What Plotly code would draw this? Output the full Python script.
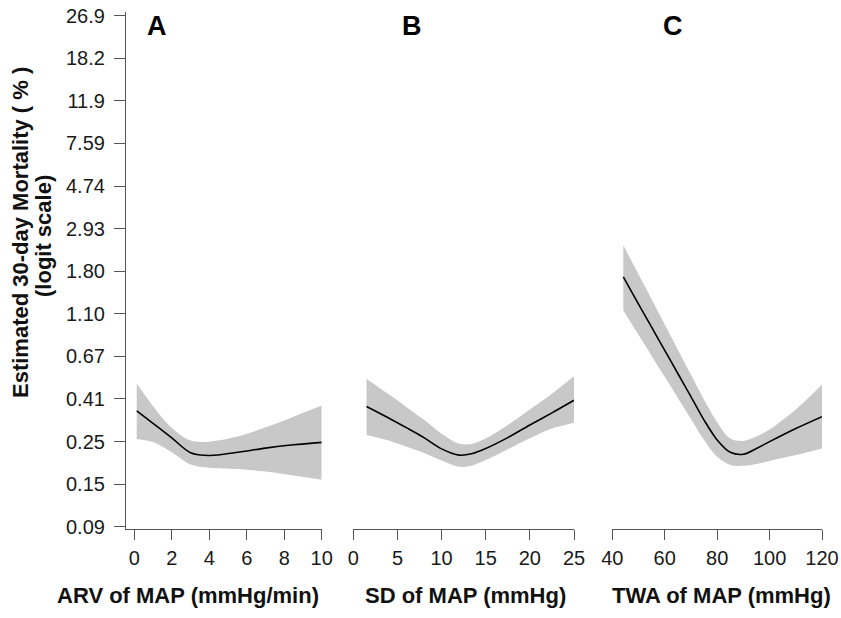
import numpy as np
import plotly.graph_objects as go

W, H = 841, 618

# y axis: logit scale, tick positions (logit) and their percent labels
y_tick_logit = [-7.0, -6.5, -6.0, -5.5, -5.0, -4.5, -4.0, -3.5, -3.0, -2.5, -2.0, -1.5, -1.0]
y_tick_text = ["0.09", "0.15", "0.25", "0.41", "0.67", "1.10", "1.80",
               "2.93", "4.74", "7.59", "11.9", "18.2", "26.9"]

# Panel A: ARV of MAP (mmHg/min) -> estimated 30-day mortality (%)
arv_x = [0.13, 1.0, 2.0, 3.0, 4.0, 5.5, 7.0, 8.5, 10.0]
arv_est = [0.354, 0.306, 0.258, 0.217, 0.210, 0.218, 0.229, 0.238, 0.245]
arv_hi = [0.487, 0.374, 0.290, 0.250, 0.247, 0.262, 0.292, 0.331, 0.377]
arv_lo = [0.255, 0.246, 0.218, 0.189, 0.182, 0.179, 0.174, 0.166, 0.158]

# Panel B: SD of MAP (mmHg)
sd_x = [1.5, 4, 6, 8, 10, 12, 13.5, 15, 17.5, 20, 22.5, 25]
sd_est = [0.373, 0.326, 0.291, 0.259, 0.227, 0.211, 0.215, 0.228, 0.259, 0.300, 0.346, 0.401]
sd_hi = [0.516, 0.430, 0.371, 0.319, 0.271, 0.241, 0.241, 0.256, 0.300, 0.360, 0.433, 0.530]
sd_lo = [0.267, 0.250, 0.233, 0.216, 0.198, 0.184, 0.187, 0.199, 0.226, 0.257, 0.288, 0.308]

# Panel C: TWA of MAP (mmHg)
twa_x = [44.2, 50, 55, 60, 65, 70, 75, 80, 85, 90, 95, 100, 110, 120]
twa_est = [1.684, 1.23, 0.94, 0.718, 0.548, 0.418, 0.318, 0.252, 0.218, 0.213, 0.228, 0.247, 0.288, 0.331]
twa_hi = [2.425, 1.735, 1.299, 0.970, 0.724, 0.541, 0.403, 0.310, 0.256, 0.249, 0.262, 0.285, 0.360, 0.480]
twa_lo = [1.143, 0.860, 0.673, 0.527, 0.412, 0.322, 0.252, 0.207, 0.188, 0.186, 0.190, 0.197, 0.211, 0.228]

panel_letters = ["A", "B", "C"]
x_titles = ["ARV of MAP (mmHg/min)", "SD of MAP (mmHg)", "TWA of MAP (mmHg)"]
y_title_1 = "Estimated 30-day Mortality ( % )"
y_title_2 = "(logit scale)"


def logit(pct):
    p = np.asarray(pct, dtype=float) / 100.0
    return np.log(p / (1.0 - p))


FONT = "Liberation Sans, Arial, Helvetica, sans-serif"
BAND = "rgb(200,200,200)"
AXC = "#555555"

fig = go.Figure()

panels = [
    (arv_x, arv_est, arv_lo, arv_hi, "x"),
    (sd_x, sd_est, sd_lo, sd_hi, "x2"),
    (twa_x, twa_est, twa_lo, twa_hi, "x3"),
]
for xs, est, lo, hi, xa in panels:
    fig.add_trace(go.Scatter(x=xs, y=logit(lo), xaxis=xa, yaxis="y", mode="lines",
                             line=dict(width=0, color=BAND, shape="spline", smoothing=0.9),
                             hoverinfo="skip", showlegend=False))
    fig.add_trace(go.Scatter(x=xs, y=logit(hi), xaxis=xa, yaxis="y", mode="lines",
                             line=dict(width=0, color=BAND, shape="spline", smoothing=0.9),
                             fill="tonexty", fillcolor=BAND,
                             hoverinfo="skip", showlegend=False))
    fig.add_trace(go.Scatter(x=xs, y=logit(est), xaxis=xa, yaxis="y", mode="lines",
                             line=dict(width=1.6, color="black", shape="spline", smoothing=0.9),
                             showlegend=False))


def px_x(v):
    return v / W


def px_y(v):
    return 1 - v / H


y_top_px, y_bot_px = 11.7, 529.3
common_x = dict(showline=True, linecolor=AXC, linewidth=1.2, ticks="outside", ticklen=10,
                tickwidth=1.2, tickcolor=AXC, showgrid=False, zeroline=False,
                tickfont=dict(family=FONT, size=20, color="#1a1a1a"), anchor="y",
                automargin=False, ticklabelstandoff=1)

fig.update_layout(
    width=W, height=H,
    margin=dict(l=0, r=0, t=0, b=0),
    paper_bgcolor="white", plot_bgcolor="white",
    font=dict(family=FONT, color="#111111"),
    xaxis=dict(domain=[px_x(126), px_x(321.7)], range=[-0.443, 10],
               tickvals=[0, 2, 4, 6, 8, 10], **common_x),
    xaxis2=dict(domain=[px_x(353.3), px_x(574)], range=[0, 25],
                tickvals=[0, 5, 10, 15, 20, 25], **common_x),
    xaxis3=dict(domain=[px_x(612.3), px_x(822)], range=[40, 120],
                tickvals=[40, 60, 80, 100, 120], **common_x),
    yaxis=dict(domain=[px_y(y_bot_px), px_y(y_top_px)],
               range=[-1 - (y_bot_px - 15.7) / 85.17, -1 + (15.7 - y_top_px) / 85.17],
               tickvals=y_tick_logit, ticktext=y_tick_text,
               showline=True, linecolor=AXC, linewidth=1.2, ticks="outside", ticklen=11,
               tickwidth=1.2, tickcolor=AXC, showgrid=False, zeroline=False,
               tickfont=dict(family=FONT, size=20, color="#1a1a1a"), anchor="x",
               automargin=False, ticklabelstandoff=5),
)

annots = []
for letter, xc in zip(panel_letters, [157, 412, 673]):
    annots.append(dict(text=f"<b>{letter}</b>", x=px_x(xc), y=px_y(26), xref="paper", yref="paper",
                       xanchor="center", yanchor="middle", showarrow=False,
                       font=dict(family=FONT, size=27, color="black")))
for t, xc in zip(x_titles, [187.5, 465, 721]):
    annots.append(dict(text=f"<b>{t}</b>", x=px_x(xc), y=px_y(595), xref="paper", yref="paper",
                       xanchor="center", yanchor="middle", showarrow=False,
                       font=dict(family=FONT, size=22, color="#111111")))
annots.append(dict(text=f"<b>{y_title_1}</b>", x=px_x(20), y=px_y(233), xref="paper", yref="paper",
                   xanchor="center", yanchor="middle", showarrow=False, textangle=-90,
                   font=dict(family=FONT, size=22, color="#111111")))
annots.append(dict(text=f"<b>{y_title_2}</b>", x=px_x(43), y=px_y(236), xref="paper", yref="paper",
                   xanchor="center", yanchor="middle", showarrow=False, textangle=-90,
                   font=dict(family=FONT, size=22, color="#111111")))
fig.update_layout(annotations=annots)

fig.write_html("out.html")
